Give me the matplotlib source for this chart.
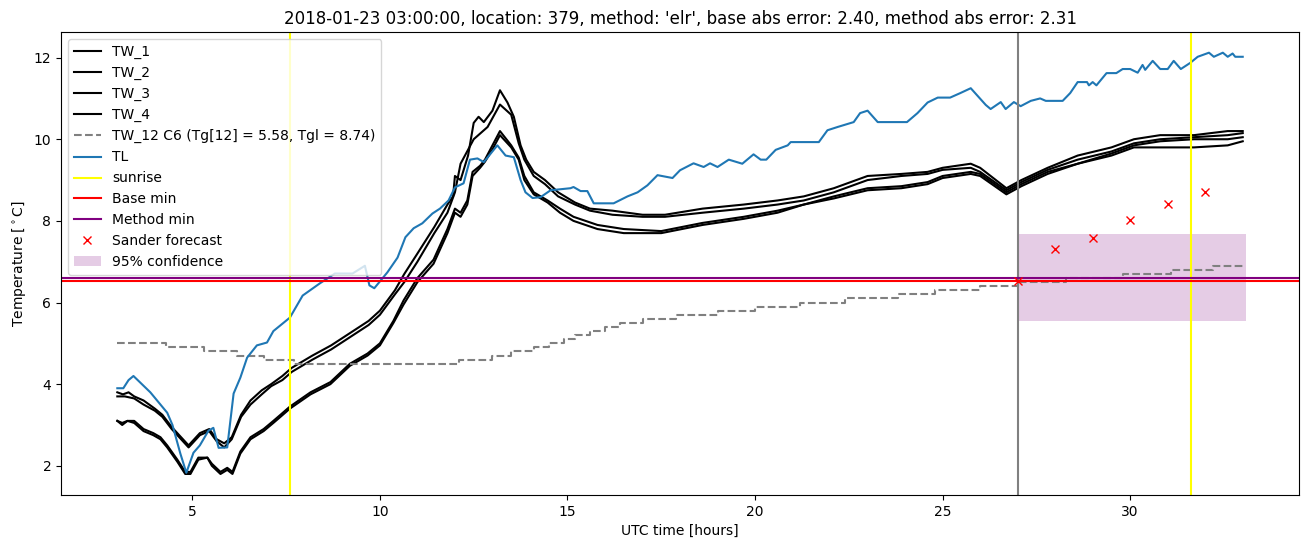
import numpy as np
import matplotlib
matplotlib.use("Agg")
import matplotlib.pyplot as plt

# --- data (UTC hours, deg C) ---
tw1_t = [3.0, 3.15, 3.3, 3.45, 3.7, 4.0, 4.2, 4.45, 4.7, 4.9, 5.2, 5.45, 5.65, 5.85, 6.05, 6.3, 6.55, 6.85, 7.1, 7.4, 7.65, 8.2, 8.7, 9.2, 9.7, 10.0, 10.4, 10.65, 11.0, 11.45, 11.8, 11.95, 12.0, 12.15, 12.35, 12.5, 12.63, 12.77, 13.0, 13.2, 13.4, 13.57, 13.75, 13.9, 14.1, 14.4, 14.75, 15.2, 15.6, 16.2, 17.0, 17.6, 18.6, 19.7, 20.6, 21.3, 22.1, 23.0, 23.9, 24.6, 25.0, 25.75, 26.0, 26.7, 27.1, 27.8, 28.6, 29.5, 30.1, 30.8, 31.7, 32.6, 33.0]
tw1_v = [3.8, 3.75, 3.8, 3.7, 3.6, 3.4, 3.25, 2.95, 2.7, 2.5, 2.8, 2.9, 2.65, 2.55, 2.7, 3.25, 3.6, 3.85, 4.0, 4.2, 4.4, 4.7, 4.95, 5.25, 5.55, 5.8, 6.3, 6.7, 7.2, 7.85, 8.4, 8.6, 9.1, 9.0, 9.6, 10.4, 10.55, 10.42, 10.7, 11.2, 10.9, 10.55, 9.85, 9.5, 9.2, 9.0, 8.7, 8.45, 8.3, 8.25, 8.15, 8.15, 8.3, 8.4, 8.5, 8.6, 8.8, 9.1, 9.15, 9.2, 9.3, 9.4, 9.3, 8.8, 9.0, 9.3, 9.6, 9.8, 10.0, 10.1, 10.1, 10.2, 10.2]

tw2_t = [3.0, 3.2, 3.45, 3.7, 4.0, 4.2, 4.45, 4.7, 4.9, 5.2, 5.45, 5.65, 5.85, 6.05, 6.3, 6.55, 6.85, 7.1, 7.4, 7.65, 8.2, 8.7, 9.2, 9.7, 10.0, 10.4, 10.65, 11.0, 11.45, 11.8, 12.0, 12.15, 12.5, 12.87, 13.2, 13.5, 13.7, 13.85, 14.1, 14.4, 14.75, 15.2, 15.6, 16.2, 17.0, 17.6, 18.6, 19.7, 20.6, 21.3, 22.1, 23.0, 23.9, 24.6, 25.0, 25.75, 26.0, 26.7, 27.1, 27.8, 28.6, 29.5, 30.1, 30.8, 31.7, 32.6, 33.0]
tw2_v = [3.7, 3.7, 3.65, 3.5, 3.35, 3.2, 2.9, 2.65, 2.45, 2.75, 2.85, 2.6, 2.45, 2.65, 3.2, 3.5, 3.75, 3.95, 4.1, 4.3, 4.6, 4.85, 5.15, 5.45, 5.7, 6.2, 6.5, 7.0, 7.7, 8.2, 8.7, 9.4, 10.0, 10.3, 10.85, 10.6, 9.9, 9.5, 9.1, 8.9, 8.6, 8.4, 8.25, 8.15, 8.1, 8.1, 8.2, 8.3, 8.4, 8.5, 8.7, 9.0, 9.1, 9.15, 9.25, 9.3, 9.2, 8.75, 8.95, 9.25, 9.5, 9.7, 9.9, 10.0, 10.05, 10.1, 10.15]

tw3_t = [3.0, 3.13, 3.27, 3.45, 3.7, 3.96, 4.15, 4.33, 4.6, 4.81, 4.95, 5.16, 5.4, 5.52, 5.75, 5.93, 6.07, 6.28, 6.55, 6.9, 7.16, 7.35, 7.6, 8.15, 8.68, 9.2, 9.67, 10.0, 10.36, 10.63, 11.0, 11.43, 11.8, 12.0, 12.15, 12.33, 12.47, 12.67, 12.8, 13.0, 13.2, 13.5, 13.7, 13.85, 14.1, 14.47, 14.8, 15.16, 15.8, 16.5, 17.5, 18.6, 19.7, 20.6, 21.3, 22.1, 23.0, 23.9, 24.6, 25.0, 25.75, 26.0, 26.7, 27.1, 27.8, 28.6, 29.5, 30.1, 30.8, 31.7, 32.6, 33.0]
tw3_v = [3.1, 3.0, 3.1, 3.1, 2.9, 2.8, 2.7, 2.5, 2.15, 1.85, 1.85, 2.2, 2.2, 2.05, 1.85, 1.95, 1.85, 2.35, 2.7, 2.9, 3.1, 3.25, 3.45, 3.8, 4.05, 4.5, 4.75, 5.0, 5.55, 6.05, 6.6, 7.05, 7.8, 8.3, 8.2, 8.5, 9.2, 9.35, 9.5, 9.85, 10.2, 9.85, 9.55, 9.1, 8.7, 8.5, 8.3, 8.1, 7.9, 7.8, 7.75, 7.95, 8.1, 8.25, 8.4, 8.6, 8.8, 8.85, 8.95, 9.1, 9.2, 9.15, 8.7, 8.9, 9.2, 9.4, 9.65, 9.85, 9.95, 10.0, 10.0, 10.05]

tw4_t = tw3_t
tw4_v = [3.1, 3.05, 3.1, 3.05, 2.85, 2.75, 2.65, 2.45, 2.1, 1.8, 1.8, 2.15, 2.2, 2.0, 1.8, 1.9, 1.8, 2.3, 2.65, 2.85, 3.05, 3.2, 3.4, 3.75, 4.0, 4.45, 4.7, 4.95, 5.5, 5.95, 6.5, 6.95, 7.7, 8.2, 8.1, 8.4, 9.1, 9.3, 9.45, 9.75, 10.1, 9.8, 9.5, 9.0, 8.65, 8.45, 8.2, 8.0, 7.8, 7.7, 7.7, 7.9, 8.05, 8.2, 8.4, 8.55, 8.75, 8.8, 8.9, 9.05, 9.15, 9.1, 8.65, 8.85, 9.15, 9.4, 9.6, 9.8, 9.8, 9.8, 9.85, 9.95]

# TW_12 is a step series (value holds until next change)
tw12_t = [3.0, 4.3, 5.3, 6.2, 6.9, 7.7, 12.1, 13.0, 13.5, 14.1, 14.5, 14.9, 15.2, 15.6, 16.0, 16.4, 17.0, 17.9, 19.0, 20.0, 21.2, 22.4, 23.8, 24.8, 26.0, 27.0, 28.3, 29.8, 31.1, 32.2, 33.0]
tw12_v = [5.0, 4.9, 4.8, 4.7, 4.6, 4.5, 4.6, 4.7, 4.8, 4.9, 5.0, 5.1, 5.2, 5.3, 5.4, 5.5, 5.6, 5.7, 5.8, 5.9, 6.0, 6.1, 6.2, 6.3, 6.4, 6.5, 6.6, 6.7, 6.8, 6.9, 6.9]

tl_t = [3.0, 3.16, 3.3, 3.43, 3.88, 4.33, 4.47, 4.68, 4.84, 5.03, 5.2, 5.43, 5.56, 5.7, 5.93, 6.1, 6.28, 6.46, 6.72, 6.99, 7.16, 7.6, 7.94, 8.4, 8.8, 9.27, 9.6, 9.72, 9.85, 10.2, 10.47, 10.68, 10.9, 11.13, 11.4, 11.6, 11.83, 12.0, 12.23, 12.4, 12.6, 12.77, 13.13, 13.35, 13.57, 13.75, 13.88, 14.07, 14.28, 14.55, 15.08, 15.16, 15.35, 15.53, 15.7, 16.23, 16.6, 16.87, 17.13, 17.4, 17.8, 18.0, 18.36, 18.63, 18.8, 19.0, 19.3, 19.66, 19.96, 20.15, 20.3, 20.55, 20.87, 20.95, 21.7, 21.93, 22.2, 22.63, 22.8, 23.0, 23.27, 24.05, 24.33, 24.6, 24.87, 25.2, 25.47, 25.75, 26.15, 26.28, 26.55, 26.68, 26.9, 27.08, 27.35, 27.6, 27.75, 28.2, 28.4, 28.6, 28.85, 28.9, 29.0, 29.1, 29.37, 29.63, 29.8, 30.0, 30.2, 30.33, 30.4, 30.6, 30.8, 31.0, 31.16, 31.35, 31.6, 31.8, 32.1, 32.23, 32.47, 32.6, 32.73, 32.8, 33.0]
tl_v = [3.9, 3.9, 4.1, 4.2, 3.8, 3.3, 3.0, 2.3, 1.83, 2.32, 2.5, 2.86, 2.93, 2.44, 2.45, 3.77, 4.16, 4.65, 4.95, 5.02, 5.3, 5.63, 6.17, 6.47, 6.71, 6.71, 6.9, 6.42, 6.35, 6.74, 7.1, 7.6, 7.82, 7.94, 8.18, 8.3, 8.5, 8.82, 8.92, 9.5, 9.53, 9.44, 9.85, 9.6, 9.56, 9.0, 8.7, 8.56, 8.58, 8.75, 8.8, 8.83, 8.73, 8.73, 8.43, 8.43, 8.6, 8.7, 8.87, 9.12, 9.05, 9.24, 9.41, 9.32, 9.41, 9.32, 9.5, 9.4, 9.63, 9.5, 9.5, 9.74, 9.85, 9.93, 9.93, 10.22, 10.3, 10.42, 10.64, 10.7, 10.42, 10.42, 10.64, 10.9, 11.02, 11.02, 11.13, 11.25, 10.84, 10.74, 10.91, 10.74, 10.91, 10.81, 10.94, 11.0, 10.94, 10.94, 11.13, 11.4, 11.4, 11.32, 11.4, 11.32, 11.62, 11.62, 11.72, 11.72, 11.63, 11.82, 11.7, 11.92, 11.72, 11.72, 11.92, 11.72, 11.87, 12.02, 12.12, 12.02, 12.12, 12.02, 12.1, 12.02, 12.02]

sunrise = [7.6, 31.63]
forecast_start = 27.0
base_min = 6.52
method_min = 6.61

sander_t = [27, 28, 29, 30, 31, 32]
sander_v = [6.52, 7.30, 7.58, 8.02, 8.42, 8.70]

conf_t = [27.0, 33.08]
conf_lo = 5.54
conf_hi = 7.67

fig = plt.figure(figsize=(13.1, 5.47), dpi=100)
ax = fig.add_axes([0.0466, 0.0951, 0.9450, 0.8455])

ax.plot(tw1_t, tw1_v, color="black", label="TW_1")
ax.plot(tw2_t, tw2_v, color="black", label="TW_2")
ax.plot(tw3_t, tw3_v, color="black", label="TW_3")
ax.plot(tw4_t, tw4_v, color="black", label="TW_4")
ax.plot(tw12_t, tw12_v, color="gray", linestyle="--", drawstyle="steps-post",
        label="TW_12 C6 (Tg[12] = 5.58, Tgl = 8.74)")
ax.plot(tl_t, tl_v, color="C0", label="TL")

ax.axvline(sunrise[0], color="yellow", label="sunrise")
ax.axvline(sunrise[1], color="yellow")
ax.axvline(forecast_start, color="gray")
ax.axhline(base_min, color="red", label="Base min")
ax.axhline(method_min, color="purple", label="Method min")
ax.plot(sander_t, sander_v, "x", color="red", label="Sander forecast")
ax.fill_between(conf_t, conf_lo, conf_hi, color="purple", alpha=0.2, linewidth=0,
                label="95% confidence")

ax.set_xlim(1.5, 34.5)
ax.set_ylim(1.285, 12.615)
ax.set_xlabel("UTC time [hours]")
ax.set_ylabel(r"Temperature [$^\circ$C]")
ax.set_title("2018-01-23 03:00:00, location: 379, method: 'elr', base abs error: 2.40, method abs error: 2.31")
ax.legend(loc="upper left")

plt.savefig("out.png")
